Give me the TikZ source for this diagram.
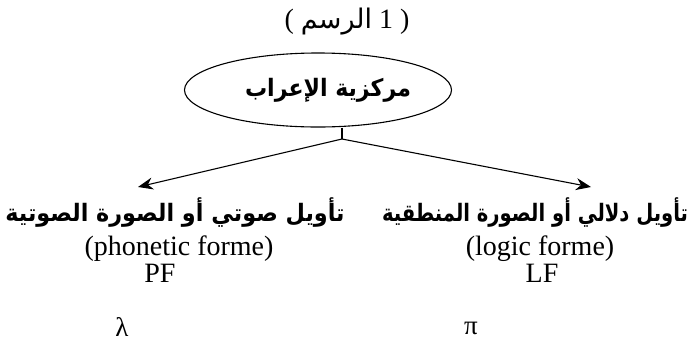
\documentclass[tikz,border=0pt]{standalone}
\usepackage{fontspec}
\setmainfont{Liberation Serif}
\newfontfamily\arabicfont[Script=Arabic]{DejaVu Sans}
\TeXXeTstate=1
\usetikzlibrary{shapes.geometric,arrows.meta}
\begin{document}
\begin{tikzpicture}[x=1pt,y=-1pt,
  arlabel/.style={inner sep=0pt,font=\arabicfont\bfseries\fontsize{24}{26}\selectfont},
  latlabel/.style={inner sep=0pt,font=\fontsize{28}{30}\selectfont},
  greek/.style={inner sep=0pt,font=\fontsize{27}{29}\selectfont},
  arrowline/.style={line width=1.1pt,-{Stealth[length=15pt,width=12pt]}}]
\useasboundingbox[fill=white] (0,0) rectangle (693,354);
\node[inner sep=0pt,font=\fontsize{28}{30}\selectfont] (title) at (347,22) {( \hbox{\arabicfont\fontsize{27}{29}\selectfont الرسم} 1 )};
\node[draw,ellipse,line width=1.1pt,minimum width=267pt,minimum height=74pt,inner sep=0pt,
  font=\arabicfont\bfseries\fontsize{24}{26}\selectfont] (e) at (318,90) {\hspace*{20pt}\scalebox{0.92}[1]{\beginR مركزية الإعراب\endR}};
\coordinate (j) at (342,139);
\coordinate (lt) at (138,187);
\coordinate (rt) at (591,187);
\draw[line width=1.1pt] (j |- e.south) -- (j);
\draw[arrowline] (j) -- (lt);
\draw[arrowline] (j) -- (rt);
\node[arlabel] (lab) at (175,213) {\scalebox{0.93}[1]{\beginR تأويل صوتي أو الصورة الصوتية\endR}};
\node[arlabel] (rab) at (535,213) {\scalebox{0.815}[1]{\beginR تأويل دلالي أو الصورة المنطقية\endR}};
\node[latlabel] (pf1) at (179,249) {(phonetic forme)};
\node[latlabel] (pf2) at (160,273) {PF};
\node[latlabel] (lf1) at (540,249) {(logic forme)};
\node[latlabel] (lf2) at (542,273) {LF};
\node[greek] (lam) at (122,327) {λ};
\node[greek] (pi) at (471,328) {π};
\end{tikzpicture}
\end{document}
